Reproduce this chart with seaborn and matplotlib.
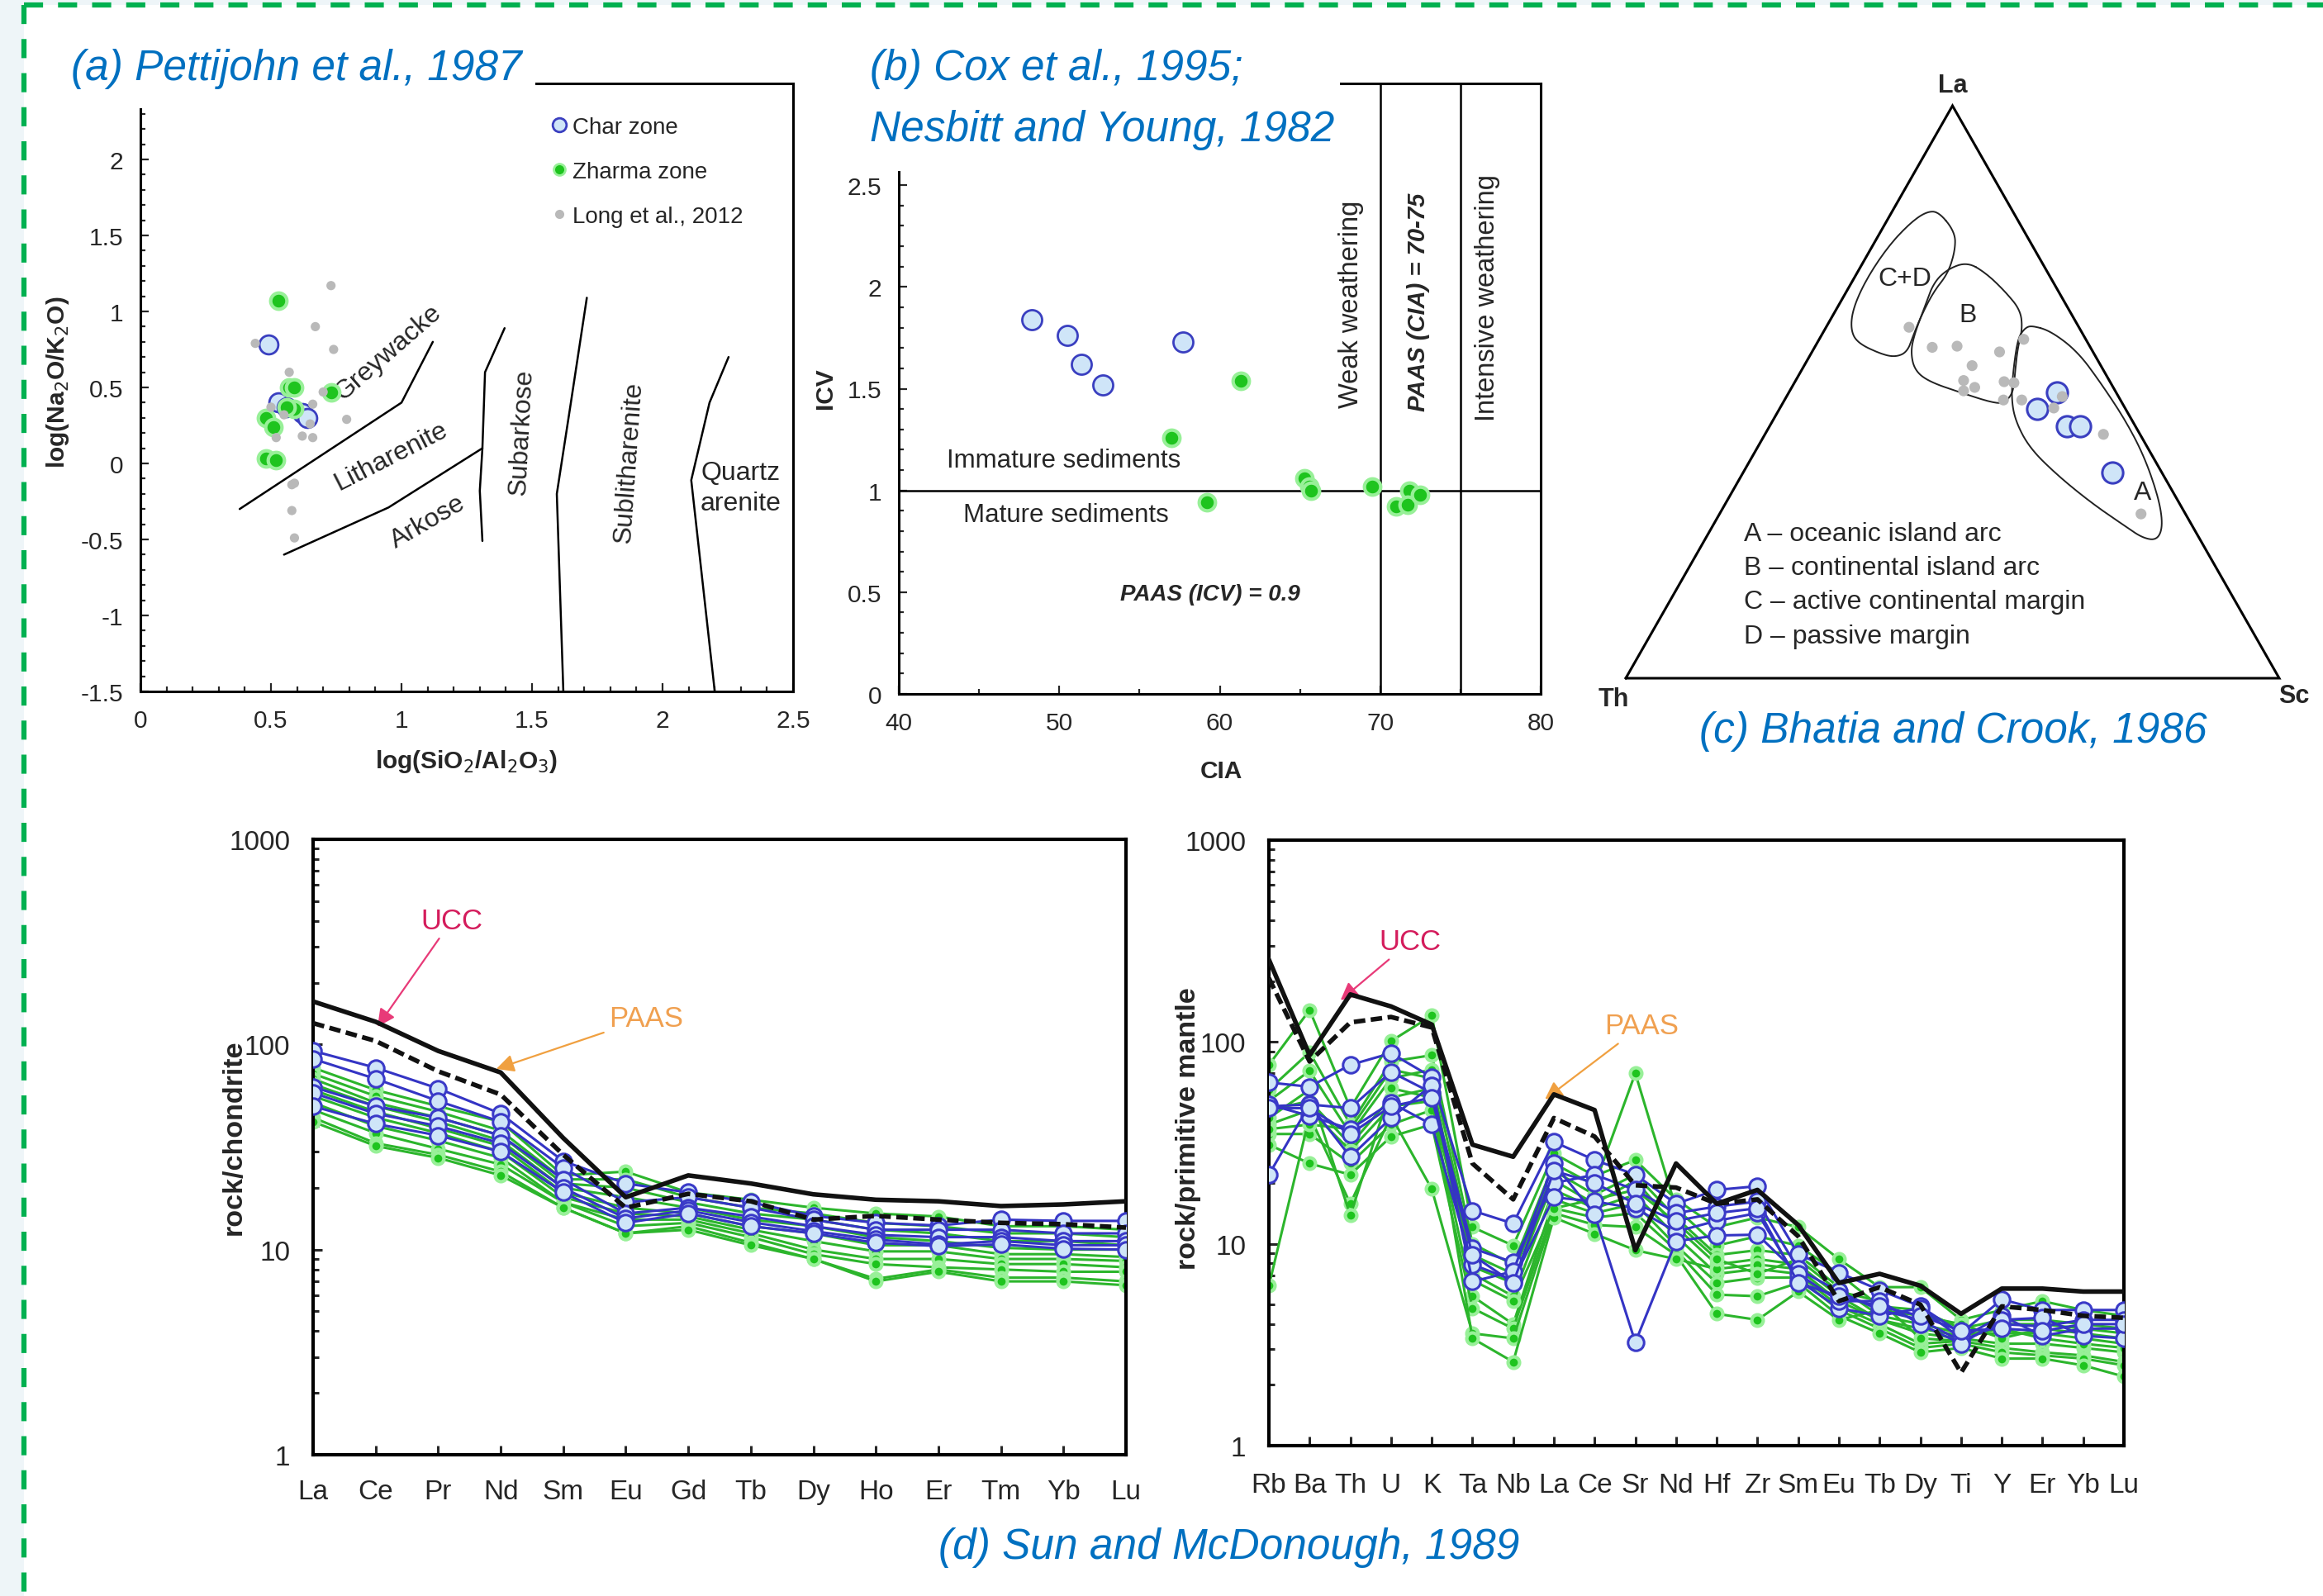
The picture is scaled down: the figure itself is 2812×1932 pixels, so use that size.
import numpy as np
import pandas as pd
import matplotlib.pyplot as plt
from matplotlib.lines import Line2D
from matplotlib.patches import Rectangle
from matplotlib.ticker import MultipleLocator, FixedLocator, LogLocator, NullFormatter, FuncFormatter
import seaborn as sns

sns.set_style('ticks')
plt.rcParams['font.family'] = ['Liberation Sans', 'DejaVu Sans']
plt.rcParams['axes.unicode_minus'] = False
NARROW = ['Liberation Sans Narrow', 'Liberation Sans', 'DejaVu Sans']

# ========== colours ==========
TITLE_BLUE = '#0070c0'
CHAR_FACE, CHAR_EDGE = '#cfe5f8', '#3a3fc0'
ZH_FACE, ZH_HALO = '#1ec41e', '#98f098'
LONG_GREY = '#b9b9b9'

# ========== (a) Pettijohn et al., 1987 ==========
char_a_x = [0.49, 0.53, 0.56, 0.62, 0.64]
char_a_y = [0.78, 0.40, 0.37, 0.33, 0.30]
zharma_a_x = [0.53, 0.57, 0.59, 0.73, 0.59, 0.48, 0.51, 0.48, 0.52, 0.56]
zharma_a_y = [1.07, 0.50, 0.50, 0.47, 0.36, 0.30, 0.24, 0.03, 0.02, 0.37]
long_a_x = [0.73, 0.67, 0.74, 0.44, 0.57, 0.66, 0.70, 0.79, 0.50, 0.55, 0.65, 0.66, 0.62, 0.52, 0.59, 0.58, 0.58, 0.59]
long_a_y = [1.17, 0.90, 0.75, 0.79, 0.60, 0.39, 0.47, 0.29, 0.37, 0.32, 0.26, 0.17, 0.18, 0.17, -0.13, -0.14, -0.31, -0.49]

# field boundaries
greywacke_x, greywacke_y = [0.38, 1.00, 1.12], [-0.30, 0.40, 0.80]
arkose_x, arkose_y = [0.55, 0.95, 1.31], [-0.60, -0.29, 0.10]
subarkose_x, subarkose_y = [1.31, 1.30, 1.31, 1.32, 1.395], [-0.51, -0.18, 0.10, 0.60, 0.89]
sublith_x, sublith_y = [1.62, 1.595, 1.648, 1.71], [-1.5, -0.20, 0.39, 1.09]
quartz_x, quartz_y = [2.20, 2.11, 2.18, 2.253], [-1.5, -0.11, 0.40, 0.70]

# ========== (b) Cox et al. / Nesbitt and Young ==========
char_b_cia = [48.3, 50.5, 51.4, 52.7, 57.7]
char_b_icv = [1.84, 1.76, 1.62, 1.52, 1.73]
zharma_b_cia = [61.3, 57.0, 59.2, 65.3, 65.6, 65.7, 69.5, 71.8, 71.0, 71.7, 72.5]
zharma_b_icv = [1.54, 1.26, 0.94, 1.06, 1.02, 1.00, 1.02, 1.00, 0.92, 0.93, 0.98]

# ========== (c) Bhatia and Crook, 1986 (La, Th, Sc fractions) ==========
char_c_la = [0.50, 0.47, 0.44, 0.44, 0.36]
char_c_th = [0.09, 0.135, 0.105, 0.085, 0.075]
char_c_sc = [0.41, 0.395, 0.455, 0.475, 0.565]
long_c_la = [0.613, 0.578, 0.580, 0.570, 0.546, 0.520, 0.508, 0.518, 0.516, 0.592, 0.486, 0.486, 0.492, 0.472, 0.426, 0.287, 0.502]
long_c_th = [0.260, 0.242, 0.203, 0.143, 0.197, 0.223, 0.212, 0.162, 0.148, 0.095, 0.179, 0.151, 0.086, 0.109, 0.056, 0.068, 0.232]
long_c_sc = [0.127, 0.180, 0.217, 0.287, 0.257, 0.257, 0.280, 0.320, 0.336, 0.313, 0.335, 0.363, 0.422, 0.419, 0.518, 0.645, 0.266]

# field outlines in the diagram frame (x along Th-Sc, y towards La)
field_cd_x = [.479, .504, .504, .493, .471, .453, .441, .431, .413, .391, .354, .344, .348, .369, .402, .435, .460]
field_cd_y = [.815, .779, .747, .707, .675, .635, .602, .570, .561, .566, .586, .610, .647, .699, .755, .795, .815]
field_b_x = [.523, .552, .581, .604, .607, .600, .596, .593, .578, .559, .515, .464, .442, .436, .442, .457, .471, .493]
field_b_y = [.727, .707, .675, .643, .610, .578, .538, .498, .480, .482, .498, .518, .538, .570, .602, .647, .691, .715]
field_a_x = [.622, .651, .692, .728, .765, .794, .816, .822, .813, .791, .765, .714, .662, .618, .596, .590, .593, .600, .611]
field_a_y = [.616, .606, .570, .514, .450, .386, .313, .265, .241, .245, .265, .305, .353, .402, .450, .490, .538, .594, .612]

# ========== (d) Sun and McDonough, 1989 ==========
ree_elements = ['La', 'Ce', 'Pr', 'Nd', 'Sm', 'Eu', 'Gd', 'Tb', 'Dy', 'Ho', 'Er', 'Tm', 'Yb', 'Lu']
ree_ucc = [162, 129, 93, 73, 35, 18, 23, 21, 18.6, 17.5, 17.2, 16.3, 16.6, 17.2]
ree_paas = [127, 104, 74, 57, 29, 16, 18.7, 17.2, 14, 14.6, 14, 13.5, 13.3, 12.8]
ree_char = [
    [93, 77, 61, 46, 27, 21, 19, 17, 14.6, 13.5, 13.1, 14.0, 13.8, 13.8],
    [85, 68, 53, 42, 25, 17, 18, 16, 14, 12.5, 12.5, 12.5, 12, 12],
    [62, 50, 44, 36, 22, 15, 16, 14.5, 13, 11.8, 11.5, 11.5, 11, 11],
    [58, 46, 40, 33, 20, 14.2, 15.5, 13.6, 12.3, 11.2, 10.6, 11, 10.5, 10.5],
    [50, 41, 36, 30, 19, 13.5, 15, 13, 12, 10.8, 10.4, 10.6, 10.1, 10],
]
ree_zharma = [
    [77, 60, 50, 42, 23, 24, 19, 17.5, 16, 15, 14.5, 13, 13, 12.5],
    [72, 56, 47, 38, 22, 22, 18, 16, 15, 13.5, 13, 12, 12, 11.5],
    [68, 52, 44, 36, 21, 20, 17, 15, 14, 12.5, 12, 11, 11, 10.5],
    [64, 50, 42, 34, 20, 18, 16, 14, 13, 11.5, 11, 10.2, 10, 10],
    [60, 47, 39, 32, 19, 16, 15, 13, 12, 10.5, 10.5, 9.5, 9.5, 9.2],
    [56, 44, 37, 30, 18, 15, 14.5, 12.5, 11, 9.8, 9.8, 9, 9, 8.8],
    [52, 40, 34, 28, 17, 14, 14, 12, 10, 9, 9, 8.5, 8.5, 8.2],
    [48, 37, 31, 26, 17, 13, 13.5, 11.5, 9.5, 8.5, 8.2, 8, 7.8, 7.8],
    [44, 33, 29, 24, 16, 12, 13, 10.8, 9, 7.2, 8, 7.3, 7.3, 7],
    [42, 32, 28, 23, 16, 12, 12.5, 10.5, 9, 7, 7.8, 7, 7, 6.7],
]

pm_elements = ['Rb', 'Ba', 'Th', 'U', 'K', 'Ta', 'Nb', 'La', 'Ce', 'Sr', 'Nd', 'Hf', 'Zr', 'Sm', 'Eu', 'Tb', 'Dy', 'Ti', 'Y', 'Er', 'Yb', 'Lu']
pm_ucc = [256, 86, 172, 150, 122, 31, 27, 55, 46, 9.3, 25, 15.8, 18.5, 12.4, 6.4, 7.1, 6.2, 4.5, 6.0, 6.0, 5.8, 5.8]
pm_paas = [207, 80, 125, 133, 118, 25, 16.6, 42, 34, 19.5, 19, 15.8, 16.6, 10.9, 5.2, 6.1, 5.0, 2.3, 4.9, 4.7, 4.4, 4.3]
pm_char = [
    [63, 60, 77, 88, 67, 14.6, 12.6, 32, 26, 22, 15.8, 18.5, 19.3, 8.9, 7.2, 5.9, 4.9, 3.6, 5.3, 4.7, 4.7, 4.7],
    [48, 49, 47, 71, 56, 9.5, 8.1, 20, 22, 18.5, 14.2, 15.3, 16.2, 7.5, 5.8, 4.7, 4.2, 3.3, 4.0, 3.9, 4.2, 4.2],
    [49, 43, 37, 50, 39, 7.9, 6.6, 17, 16.2, 15, 11.5, 13, 14.2, 6.6, 4.8, 4.4, 4.8, 3.4, 4.4, 3.5, 3.8, 3.8],
    [22, 49, 27, 42, 61, 6.5, 7.3, 25, 14, 3.25, 10.3, 11, 11.1, 7.1, 5.2, 5.2, 4.0, 3.2, 4.2, 4.3, 3.5, 3.4],
    [47, 47, 35, 48, 53, 8.8, 6.4, 23, 20, 15.8, 13, 14.2, 15, 6.4, 5.5, 4.9, 4.4, 3.7, 3.8, 3.7, 4.0, 4.0],
]
pm_zharma = [
    [77, 144, 47, 101, 135, 12.1, 9.8, 28, 21.7, 26, 16.6, 12.1, 13.5, 12.1, 8.4, 6.1, 6.1, 4.2, 4.7, 5.2, 4.7, 4.4],
    [58, 89, 39, 80, 86, 10.0, 7.9, 25, 19.5, 70, 15.0, 9.8, 10.9, 9.8, 7.1, 4.9, 4.7, 3.8, 4.2, 4.2, 4.0, 3.8],
    [51, 72, 35, 66, 73, 8.8, 7.1, 23, 17.5, 22, 13.5, 8.8, 9.3, 8.8, 6.1, 4.4, 4.0, 3.6, 3.6, 3.6, 3.4, 3.2],
    [46, 51, 31, 53, 59, 7.7, 6.4, 20.6, 15.8, 20.6, 12.1, 7.9, 8.4, 7.9, 5.5, 4.2, 3.6, 3.4, 3.2, 3.2, 3.05, 2.9],
    [39, 46, 29, 48, 51, 7.1, 5.5, 18.5, 15.0, 17.5, 10.9, 7.1, 7.5, 7.1, 4.9, 4.0, 3.2, 3.3, 3.05, 2.9, 2.8, 2.6],
    [35, 35, 25, 39, 46, 5.5, 4.0, 16.6, 14.2, 15.8, 9.8, 6.4, 6.8, 6.8, 4.7, 3.8, 3.05, 3.2, 2.9, 2.8, 2.7, 2.5],
    [31, 25, 22, 34, 39, 4.8, 3.8, 15.0, 13.5, 14.2, 9.3, 5.6, 5.5, 6.4, 4.4, 3.6, 2.9, 3.05, 2.7, 2.7, 2.5, 2.2],
    [6.2, 43, 15.8, 43, 18.7, 3.6, 3.4, 14.2, 12.4, 12.1, 8.8, 4.5, 4.2, 5.8, 4.2, 4.7, 4.4, 4.0, 3.4, 3.8, 3.6, 3.4],
    [42, 58, 13.8, 59, 53, 3.4, 2.6, 13.5, 11.2, 9.3, 8.4, 7.5, 7.9, 7.5, 5.2, 4.2, 3.8, 3.5, 3.8, 3.4, 3.2, 3.05],
    [37, 39, 37, 73, 66, 6.6, 5.2, 15.0, 16.6, 18.5, 12.8, 8.4, 7.1, 8.4, 5.8, 5.2, 3.4, 3.3, 4.0, 4.0, 3.8, 3.6],
]


def chaikin(x, y, n=3):
    pts = np.column_stack([x, y])
    for _ in range(n):
        nxt = np.roll(pts, -1, axis=0)
        new = np.empty((2 * len(pts), 2))
        new[0::2] = 0.75 * pts + 0.25 * nxt
        new[1::2] = 0.25 * pts + 0.75 * nxt
        pts = new
    pts = np.vstack([pts, pts[:1]])
    return pts[:, 0], pts[:, 1]


def ternary_xy(la, th, sc):
    la, th, sc = map(np.asarray, (la, th, sc))
    tot = la + th + sc
    return (sc + la / 2) / tot, la / tot


def long_table(rows):
    return pd.DataFrame([(i, j, v) for i, r in enumerate(rows) for j, v in enumerate(r)],
                        columns=['sample', 'pos', 'val'])


W, H = 2812, 1933
fig = plt.figure(figsize=(W / 100, H / 100), dpi=100)
fig.patch.set_facecolor('#eef5f8')
fig.add_artist(Rectangle((29 / W, 0), 1, 1 - 7 / H, transform=fig.transFigure,
                         facecolor='white', edgecolor='none', zorder=-5))
for xs, ys in [([29 / W, 1], [1 - 7 / H, 1 - 7 / H]), ([29 / W, 29 / W], [1 - 7 / H, 0])]:
    fig.add_artist(Line2D(xs, ys, transform=fig.transFigure, color='#00b050', lw=4.5,
                          ls=(0, (3.7, 2.9))))


def style_axes(ax, lw=2.2):
    for s in ax.spines.values():
        s.set_visible(True)
        s.set_linewidth(lw)
        s.set_color('black')


def capped(top):
    # labels above `top` sit under the title boxes, leave them empty
    return FuncFormatter(lambda v, p: '' if v > top + 1e-9 else f'{v:g}')


# ---------- (a) ----------
ax = fig.add_axes([170 / W, 1 - 838 / H, 790 / W, 736 / H])
style_axes(ax)
for fx, fy in [(greywacke_x, greywacke_y), (arkose_x, arkose_y), (subarkose_x, subarkose_y),
               (sublith_x, sublith_y), (quartz_x, quartz_y)]:
    ax.plot(fx, fy, color='black', lw=1.8)
sns.scatterplot(x=char_a_x, y=char_a_y, ax=ax, s=270, color=CHAR_FACE, edgecolor=CHAR_EDGE, linewidth=2, zorder=3)
sns.scatterplot(x=zharma_a_x, y=zharma_a_y, ax=ax, s=200, color=ZH_FACE, edgecolor=ZH_HALO, linewidth=3, zorder=4)
sns.scatterplot(x=long_a_x, y=long_a_y, ax=ax, s=65, color=LONG_GREY, edgecolor='none', zorder=5)
lab = dict(fontsize=23, ha='center', va='center', rotation_mode='anchor')
ax.text(0.95, 0.73, 'Greywacke', rotation=41, **lab)
ax.text(0.96, 0.05, 'Litharenite', rotation=27, **lab)
ax.text(1.10, -0.38, 'Arkose', rotation=30, **lab)
ax.text(1.46, 0.21, 'Subarkose', rotation=87, **lab)
ax.text(1.873, 0.01, 'Sublitharenite', rotation=86, **lab)
ax.text(2.30, -0.16, 'Quartz\narenite', fontsize=23, ha='center', va='center', linespacing=1.3)
ax.set_xlim(0, 2.5)
ax.set_ylim(-1.5, 2.5)
ax.xaxis.set_major_locator(MultipleLocator(0.5))
ax.xaxis.set_minor_locator(MultipleLocator(0.1))
ax.yaxis.set_major_locator(MultipleLocator(0.5))
ax.yaxis.set_minor_locator(MultipleLocator(0.1))
ax.xaxis.set_major_formatter(capped(2.5))
ax.yaxis.set_major_formatter(capped(2.0))
ax.tick_params(which='both', direction='in', top=False, right=False, width=1.6, labelsize=21.5, pad=15)
ax.tick_params(which='major', length=7)
ax.tick_params(which='minor', length=4)
ax.set_xlabel('log(SiO$_2$/Al$_2$O$_3$)', fontsize=21.5, fontweight='bold')
ax.set_ylabel('log(Na$_2$O/K$_2$O)', fontsize=21.5, fontweight='bold')
ax.xaxis.set_label_coords(0.5, -0.092)
ax.yaxis.set_label_coords(-0.106, 0.51)
handles = [Line2D([], [], ls='', marker='o', ms=12, mfc=CHAR_FACE, mec=CHAR_EDGE, mew=2),
           Line2D([], [], ls='', marker='o', ms=10, mfc=ZH_FACE, mec=ZH_HALO, mew=2),
           Line2D([], [], ls='', marker='o', ms=8, mfc=LONG_GREY, mec='none')]
ax.legend(handles, ['Char zone', 'Zharma zone', 'Long et al., 2012'], loc='upper left',
          bbox_to_anchor=(0.6, 0.972), frameon=False, fontsize=20, handletextpad=0.05,
          labelspacing=1.0, handlelength=1.0, borderpad=0.2)

# ---------- (b) ----------
ax = fig.add_axes([1088 / W, 1 - 841 / H, 777 / W, 739 / H])
style_axes(ax)
ax.axhline(1, color='black', lw=1.8)
ax.axvline(70, color='black', lw=1.8)
ax.axvline(75, color='black', lw=1.8)
sns.scatterplot(x=char_b_cia, y=char_b_icv, ax=ax, s=300, color=CHAR_FACE, edgecolor=CHAR_EDGE, linewidth=2, zorder=3)
sns.scatterplot(x=zharma_b_cia, y=zharma_b_icv, ax=ax, s=200, color=ZH_FACE, edgecolor=ZH_HALO, linewidth=3, zorder=4)
ax.text(43.0, 1.15, 'Immature sediments', fontsize=22.5, va='center', ha='left')
ax.text(44.0, 0.88, 'Mature sediments', fontsize=22.5, va='center', ha='left')
ax.text(53.8, 0.49, 'PAAS (ICV) = 0.9', fontsize=20, fontweight='bold', fontstyle='italic', va='center')
ax.text(68.2, 1.92, 'Weak weathering', rotation=90, fontsize=23.5, ha='center', va='center')
ax.text(72.4, 1.93, 'PAAS (CIA) = 70-75', rotation=90, fontsize=21, fontweight='bold',
        fontstyle='italic', ha='center', va='center')
ax.text(76.7, 1.95, 'Intensive weathering', rotation=90, fontsize=23.5, ha='center', va='center')
ax.set_xlim(40, 80)
ax.set_ylim(0, 3)
ax.xaxis.set_major_locator(MultipleLocator(10))
ax.xaxis.set_minor_locator(MultipleLocator(5))
ax.yaxis.set_major_locator(MultipleLocator(0.5))
ax.yaxis.set_minor_locator(MultipleLocator(0.1))
ax.xaxis.set_major_formatter(capped(80))
ax.yaxis.set_major_formatter(capped(2.5))
ax.tick_params(which='both', direction='in', top=False, right=False, width=1.6, labelsize=21.5, pad=15)
ax.tick_params(which='major', length=7)
ax.tick_params(which='minor', length=4)
ax.set_xlabel('CIA', fontsize=21.5, fontweight='bold')
ax.set_ylabel('ICV', fontsize=21.5, fontweight='bold')
ax.xaxis.set_label_coords(0.503, -0.107)
ax.yaxis.set_label_coords(-0.0965, 0.502)

# ---------- (c) ----------
ax = fig.add_axes([1968 / W, 1 - 822 / H, 791 / W, 693 / H])
ax.set_xlim(0, 1)
ax.set_ylim(0, 1)
ax.axis('off')
ax.plot([0, 1, 0.5, 0], [0, 0, 1, 0], color='black', lw=2.2, solid_joinstyle='miter', clip_on=False)
for fx, fy in [(field_cd_x, field_cd_y), (field_b_x, field_b_y), (field_a_x, field_a_y)]:
    sx, sy = chaikin(fx, fy)
    ax.plot(sx, sy, color='#222222', lw=1.4)
gx, gy = ternary_xy(long_c_la, long_c_th, long_c_sc)
cx, cy = ternary_xy(char_c_la, char_c_th, char_c_sc)
sns.scatterplot(x=cx, y=cy, ax=ax, s=330, color=CHAR_FACE, edgecolor=CHAR_EDGE, linewidth=2.2, zorder=3)
sns.scatterplot(x=gx, y=gy, ax=ax, s=90, color=LONG_GREY, edgecolor='none', zorder=4)
vtx = dict(fontsize=22, fontweight='bold', ha='center', va='center', clip_on=False)
ax.text(0.5, 1.036, 'La', **vtx)
ax.text(-0.019, -0.036, 'Th', **vtx)
ax.text(1.022, -0.030, 'Sc', **vtx)
ax.text(0.427, 0.699, 'C+D', fontsize=23, ha='center', va='center')
ax.text(0.523, 0.635, 'B', fontsize=23, ha='center', va='center')
ax.text(0.791, 0.325, 'A', fontsize=23, ha='center', va='center')
for yy, s in zip([0.253, 0.193, 0.134, 0.074],
                 ['A – oceanic island arc', 'B – continental island arc',
                  'C – active continental margin', 'D – passive margin']):
    ax.text(0.181, yy, s, fontsize=23, ha='left', va='center')


# ---------- (d) ----------
def spider(ax, elements, ucc, paas, char_rows, zh_rows, ylabel, xpad):
    style_axes(ax, lw=3.0)
    pos = np.arange(len(elements))
    sns.lineplot(data=long_table(zh_rows), x='pos', y='val', units='sample', estimator=None, ax=ax,
                 color='#2cb52c', lw=2.2, marker='o', ms=10, mfc=ZH_FACE, mec=ZH_HALO, mew=3, zorder=2)
    sns.lineplot(data=long_table(char_rows), x='pos', y='val', units='sample', estimator=None, ax=ax,
                 color='#3434c4', lw=2.2, marker='o', ms=14, mfc=CHAR_FACE, mec='#3a3ac8', mew=2.2, zorder=3)
    sns.lineplot(x=pos, y=paas, ax=ax, color='#111111', lw=4, linestyle=(0, (2.5, 1.2)), zorder=4)
    sns.lineplot(x=pos, y=ucc, ax=ax, color='#111111', lw=4, zorder=5)
    ax.set_yscale('log')
    ax.set_ylim(1, 1000)
    ax.set_xlim(0, len(elements) - 1)
    ax.xaxis.set_major_locator(FixedLocator(pos))
    ax.set_xticklabels(elements)
    ax.yaxis.set_major_locator(FixedLocator([1, 10, 100, 1000]))
    ax.yaxis.set_major_formatter(FuncFormatter(lambda v, p: f'{v:g}'))
    ax.yaxis.set_minor_locator(LogLocator(base=10, subs=np.arange(2, 10)))
    ax.yaxis.set_minor_formatter(NullFormatter())
    ax.tick_params(which='both', direction='in', top=False, right=False, width=2.2, labelsize=24)
    ax.tick_params(axis='x', which='major', length=8, pad=xpad)
    ax.tick_params(axis='y', which='major', length=8, pad=20)
    ax.tick_params(axis='y', which='minor', length=5)
    for t in ax.get_xticklabels() + ax.get_yticklabels():
        t.set_fontfamily(NARROW)
    ax.set_xlabel('')
    ax.set_ylabel(ylabel, fontsize=24.5, fontweight='bold')


UCC_C, UCC_A = '#d41c5c', '#e83a78'
PAAS_C, PAAS_A = '#f0a050', '#f0a040'

ax = fig.add_axes([379 / W, 1 - 1762 / H, 984 / W, 745 / H])
spider(ax, ree_elements, ree_ucc, ree_paas, ree_char, ree_zharma, 'rock/chondrite', 21)
ax.yaxis.set_label_coords(-0.082, 0.517)
ax.annotate('UCC', xy=(1.03, 122), xytext=(2.22, 403), color=UCC_C, fontsize=25, ha='center', va='center',
            family=NARROW, arrowprops=dict(arrowstyle='-|>', color=UCC_A, lw=1.6, mutation_scale=32, shrinkB=0))
ax.annotate('PAAS', xy=(2.93, 76), xytext=(5.32, 134), color=PAAS_C, fontsize=25, ha='center', va='center',
            family=NARROW, arrowprops=dict(arrowstyle='-|>', color=PAAS_A, lw=1.6, mutation_scale=32, shrinkB=0))

ax = fig.add_axes([1536 / W, 1 - 1751 / H, 1035 / W, 733 / H])
spider(ax, pm_elements, pm_ucc, pm_paas, pm_char, pm_zharma, 'rock/primitive mantle', 23)
ax.yaxis.set_label_coords(-0.079, 0.525)
ax.annotate('UCC', xy=(1.76, 161), xytext=(3.47, 314), color=UCC_C, fontsize=25, ha='center', va='center',
            family=NARROW, arrowprops=dict(arrowstyle='-|>', color=UCC_A, lw=1.6, mutation_scale=32, shrinkB=0))
ax.annotate('PAAS', xy=(6.78, 52), xytext=(9.15, 120), color=PAAS_C, fontsize=25, ha='center', va='center',
            family=NARROW, arrowprops=dict(arrowstyle='-|>', color=PAAS_A, lw=1.6, mutation_scale=32, shrinkB=0))

# ========== titles (white boxes hide the spine tops like in the original) ==========
for x0, y0, x1, y1 in [(80, 40, 648, 132), (1040, 40, 1622, 208)]:
    fig.add_artist(Rectangle((x0 / W, 1 - y1 / H), (x1 - x0) / W, (y1 - y0) / H, transform=fig.transFigure,
                             facecolor='white', edgecolor='none', zorder=5))
tkw = dict(fontsize=37, fontstyle='italic', color=TITLE_BLUE, family=NARROW, zorder=6, va='center')
fig.text(86 / W, 1 - 84 / H, '(a) Pettijohn et al., 1987', ha='left', **tkw)
fig.text(1053 / W, 1 - 84 / H, '(b) Cox et al., 1995;', ha='left', **tkw)
fig.text(1053 / W, 1 - 158 / H, 'Nesbitt and Young, 1982', ha='left', **tkw)
fig.text(2364 / W, 1 - 885 / H, '(c) Bhatia and Crook, 1986', ha='center', **tkw)
fig.text(1488 / W, 1 - 1874 / H, '(d) Sun and McDonough, 1989', ha='center', **tkw)

fig.savefig('out.png', dpi=100, facecolor=fig.get_facecolor())
